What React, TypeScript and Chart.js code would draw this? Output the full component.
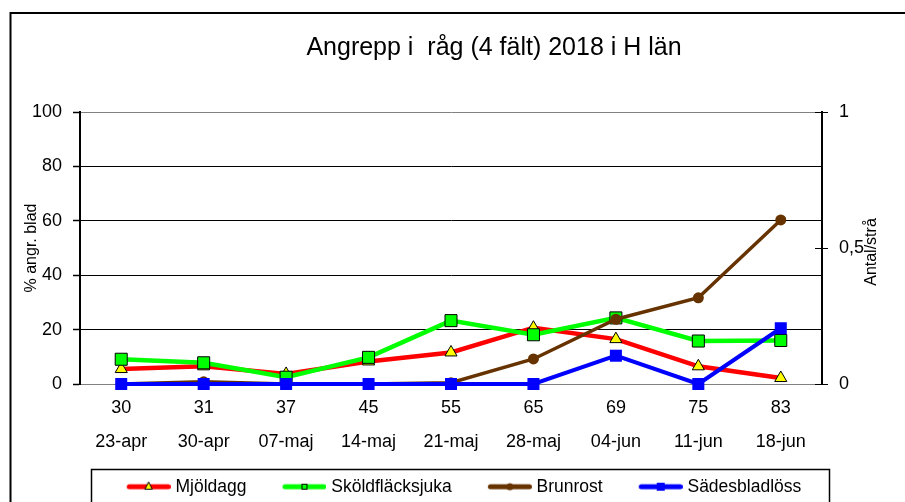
import React, { useEffect, useRef } from 'react';
import { Chart, registerables } from 'chart.js';

Chart.register(...registerables);

// ---- data ----
const titleText = 'Angrepp i  råg (4 fält) 2018 i H län';
const stages = ['30', '31', '37', '45', '55', '65', '69', '75', '83'];
const dates = ['23-apr', '30-apr', '07-maj', '14-maj', '21-maj', '28-maj', '04-jun', '11-jun', '18-jun'];
const mjoldagg = [5.5, 6.5, 3.7, 8.3, 11.6, 20.7, 16.5, 6.5, 2.2];
const skoldflacksjuka = [9.1, 7.8, 2.5, 9.8, 23.3, 18.1, 24.3, 15.8, 16.0];
const brunrost = [0, 0.008, 0, 0, 0.005, 0.092, 0.238, 0.317, 0.603];
const sadesbladloss = [0, 0, 0, 0, 0, 0, 0.104, 0, 0.205];
const leftAxisTitle = '% angr. blad';
const rightAxisTitle = 'Antal/strå';
const seriesNames = ['Mjöldagg', 'Sköldfläcksjuka', 'Brunrost', 'Sädesbladlöss'];

const W = 930;
const H = 520;
const LEG_BOX = 52;
const FONT = '"Liberation Sans", Arial, Helvetica, sans-serif';

function legendImage(color: string, kind: string): HTMLCanvasElement {
  const c = document.createElement('canvas');
  c.width = LEG_BOX + 8;
  c.height = 12;
  const g = c.getContext('2d')!;
  const end = c.width - 2.5;
  const start = end - 39;
  g.strokeStyle = color;
  g.lineWidth = 5;
  g.lineCap = 'round';
  g.beginPath();
  g.moveTo(start, 6);
  g.lineTo(end, 6);
  g.stroke();
  g.lineWidth = 1;
  const cx = (start + end) / 2;
  if (kind === 'triangle') {
    g.fillStyle = '#FFFF00';
    g.strokeStyle = '#000';
    g.beginPath();
    g.moveTo(cx, 1.5);
    g.lineTo(cx + 3.5, 8.5);
    g.lineTo(cx - 3.5, 8.5);
    g.closePath();
    g.fill();
    g.stroke();
  } else if (kind === 'square') {
    g.fillStyle = '#00FF00';
    g.strokeStyle = '#000';
    g.fillRect(cx - 2.5, 3.5, 5, 5);
    g.strokeRect(cx - 2.5, 3.5, 5, 5);
  } else if (kind === 'circle') {
    g.fillStyle = color;
    g.beginPath();
    g.arc(cx, 6, 3.5, 0, Math.PI * 2);
    g.fill();
  } else if (kind === 'bar') {
    g.fillStyle = color;
    g.fillRect(cx - 4, 2, 8, 8);
  }
  return c;
}

const decorPlugin = {
  id: 'decor',
  beforeDraw(chart: any) {
    const ctx = chart.ctx;
    ctx.save();
    ctx.fillStyle = '#fff';
    ctx.fillRect(0, 0, chart.width, chart.height);
    ctx.strokeStyle = '#000';
    ctx.lineWidth = 2;
    ctx.strokeRect(10.5, 13, 2000, 2000);
    ctx.restore();
  },
  afterDraw(chart: any) {
    const ctx = chart.ctx;
    const ca = chart.chartArea;
    const y2 = chart.scales.y2;
    ctx.save();
    // title
    ctx.fillStyle = '#000';
    ctx.font = `25px ${FONT}`;
    ctx.textAlign = 'center';
    ctx.textBaseline = 'alphabetic';
    ctx.fillText(titleText, 494, 55);
    // right axis title (reads bottom to top)
    ctx.font = `16px ${FONT}`;
    ctx.translate(y2.left + 50, (ca.top + ca.bottom) / 2 + 4);
    ctx.rotate(-Math.PI / 2);
    ctx.textBaseline = 'middle';
    ctx.fillText(rightAxisTitle, 0, 0);
    ctx.restore();
    // inner tick marks of right axis
    ctx.save();
    ctx.strokeStyle = '#000';
    ctx.lineWidth = 1;
    y2.ticks.forEach((t: any) => {
      const py = Math.round(y2.getPixelForValue(t.value)) + 0.5;
      ctx.beginPath();
      ctx.moveTo(y2.left - 7, py);
      ctx.lineTo(y2.left, py);
      ctx.stroke();
    });
    // legend box
    const hb = chart.legend.legendHitBoxes;
    if (hb && hb.length) {
      const l = hb[0].left + (LEG_BOX - 40) - 36;
      const last = hb[hb.length - 1];
      const r = last.left + last.width + 27;
      const t = hb[0].top - 9;
      ctx.lineWidth = 1.5;
      ctx.strokeRect(Math.round(l) + 0.5, Math.round(t) + 0.5, Math.round(r - l), 200);
    }
    ctx.restore();
  },
};

export default function App() {
  const ref = useRef<HTMLCanvasElement>(null);
  useEffect(() => {
    Chart.defaults.color = '#000';
    Chart.defaults.font.family = FONT;
    const images = [
      legendImage('#FF0000', 'triangle'),
      legendImage('#00FF00', 'square'),
      legendImage('#663300', 'circle'),
      legendImage('#0000FF', 'bar'),
    ];
    const labels = stages.map((s, i) => [s, dates[i]]);
    const chart = new Chart(ref.current!, {
      type: 'line',
      data: {
        labels,
        datasets: [
          {
            label: seriesNames[0],
            data: mjoldagg,
            yAxisID: 'y',
            borderColor: '#FF0000',
            borderWidth: 4.5,
            pointStyle: 'triangle',
            pointRadius: 7,
            pointBackgroundColor: '#FFFF00',
            pointBorderColor: '#000',
            pointBorderWidth: 1,
            order: 3,
            clip: false,
          },
          {
            label: seriesNames[1],
            data: skoldflacksjuka,
            yAxisID: 'y',
            borderColor: '#00FF00',
            borderWidth: 4.5,
            pointStyle: 'rect',
            pointRadius: 8.5,
            pointBackgroundColor: '#00FF00',
            pointBorderColor: '#000',
            pointBorderWidth: 1,
            order: 2,
            clip: false,
          },
          {
            label: seriesNames[2],
            data: brunrost,
            yAxisID: 'y2',
            borderColor: '#663300',
            borderWidth: 3.5,
            pointStyle: 'circle',
            pointRadius: 5.5,
            pointBackgroundColor: '#663300',
            pointBorderColor: '#663300',
            pointBorderWidth: 0,
            order: 1,
            clip: false,
          },
          {
            label: seriesNames[3],
            data: sadesbladloss,
            yAxisID: 'y2',
            borderColor: '#0000FF',
            borderWidth: 4,
            pointStyle: 'rect',
            pointRadius: 8.5,
            pointBackgroundColor: '#0000FF',
            pointBorderColor: '#0000FF',
            pointBorderWidth: 0,
            order: 0,
            clip: false,
          },
        ] as any,
      },
      options: {
        animation: false,
        responsive: false,
        devicePixelRatio: 1,
        events: [],
        layout: { padding: { top: 112, left: 16, right: W - 900, bottom: H - 505.5 } },
        elements: { line: { tension: 0 } },
        plugins: {
          title: { display: false },
          tooltip: { enabled: false },
          legend: {
            display: true,
            position: 'bottom',
            labels: {
              usePointStyle: true,
              pointStyleWidth: LEG_BOX,
              padding: 24,
              color: '#000',
              font: { size: 17.5, family: FONT },
              sort: (a: any, b: any) => a.datasetIndex - b.datasetIndex,
              generateLabels: (ch: any) => {
                const items = (Chart.defaults.plugins.legend.labels as any).generateLabels(ch);
                return items.map((it: any) => ({ ...it, pointStyle: images[it.datasetIndex], rotation: 0 }));
              },
            },
          },
        },
        scales: {
          x: {
            type: 'category',
            offset: true,
            afterFit: (s: any) => { s.height = 70; },
            grid: { display: true, drawOnChartArea: false, drawTicks: false },
            border: { display: true, color: '#808080', width: 1 },
            ticks: {
              autoSkip: false,
              maxRotation: 0,
              minRotation: 0,
              padding: 7,
              color: '#000',
              font: { size: 18, family: FONT, lineHeight: '34px' },
            },
          },
          y: {
            position: 'left',
            min: 0,
            max: 100,
            afterFit: (s: any) => { s.width = 64; },
            ticks: { stepSize: 20, padding: 11, color: '#000', font: { size: 18, family: FONT } },
            grid: {
              color: (c: any) => (c.tick && (c.tick.value === 0 || c.tick.value === 100) ? '#808080' : '#000'),
              lineWidth: 1,
              tickColor: '#000',
              tickLength: 7,
              tickWidth: 1.5,
            },
            border: { display: true, color: '#000', width: 2 },
            title: {
              display: true,
              text: leftAxisTitle,
              color: '#000',
              font: { size: 16, family: FONT },
              padding: { top: 6, bottom: 0 },
            },
          },
          y2: {
            position: 'right',
            min: 0,
            max: 1,
            afterFit: (s: any) => { s.width = 78; },
            ticks: {
              stepSize: 0.5,
              padding: 11,
              color: '#000',
              font: { size: 18, family: FONT },
              callback: (v: any) => String(v).replace('.', ','),
            },
            grid: { drawOnChartArea: false, tickColor: '#000', tickLength: 6, tickWidth: 1 },
            border: { display: true, color: '#000', width: 2 },
          },
        },
      } as any,
      plugins: [decorPlugin],
    });
    return () => chart.destroy();
  }, []);
  return (
    <div style={{ position: 'fixed', left: 0, top: 0, width: W, height: H, overflow: 'hidden' }}>
      <canvas ref={ref} width={W} height={H} style={{ display: 'block', width: W, height: H }} />
    </div>
  );
}
